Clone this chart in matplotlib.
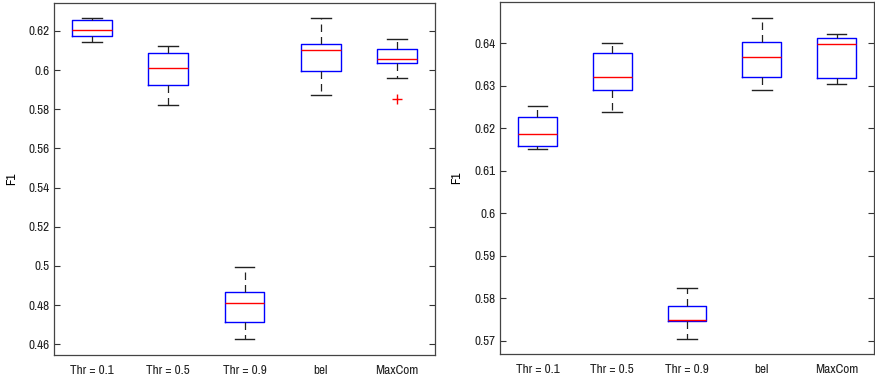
import matplotlib
matplotlib.use("Agg")
import matplotlib.pyplot as plt
from matplotlib import font_manager as fm

# narrow sans face, like the MATLAB screen font in the original
installed = set(f.name for f in fm.fontManager.ttflist)
narrow = [n for n in ["Liberation Sans Narrow", "Arial Narrow", "Archivo Narrow",
                      "PT Sans Narrow", "Roboto Condensed", "Pragati Narrow"] if n in installed]
plt.rcParams['font.family'] = narrow[:1] + ['Liberation Sans', 'DejaVu Sans']
fsize = 9.5 if narrow else 8

labels = ["Thr = 0.1", "Thr = 0.5", "Thr = 0.9", "bel", "MaxCom"]

# left panel: lower whisker, Q1, median, Q3, upper whisker
left_lo = [0.6144, 0.5824, 0.4629, 0.5873, 0.5961]
left_q1 = [0.6173, 0.5923, 0.4715, 0.5996, 0.6035]
left_med = [0.6205, 0.6011, 0.4809, 0.6101, 0.6055]
left_q3 = [0.6255, 0.6089, 0.4866, 0.6135, 0.6110]
left_hi = [0.6268, 0.6122, 0.4993, 0.6268, 0.6161]
left_out = [[], [], [], [], [0.5855]]

# right panel
right_lo = [0.6151, 0.6238, 0.5705, 0.6291, 0.6304]
right_q1 = [0.6159, 0.6289, 0.5746, 0.6321, 0.6319]
right_med = [0.6187, 0.6320, 0.5748, 0.6367, 0.6398]
right_q3 = [0.6227, 0.6378, 0.5783, 0.6403, 0.6413]
right_hi = [0.6252, 0.6401, 0.5824, 0.6459, 0.6421]
right_out = [[], [], [], [], []]


def make_stats(lo, q1, med, q3, hi, out):
    stats = []
    for i in range(len(labels)):
        stats.append({"whislo": lo[i], "q1": q1[i], "med": med[i], "q3": q3[i],
                      "whishi": hi[i], "fliers": out[i], "label": labels[i]})
    return stats


def draw(ax, stats, ylim, yticks, yticklabels):
    ax.bxp(stats, widths=0.52, capwidths=0.26, showfliers=True,
           boxprops=dict(color="#0000ff", linewidth=1.0),
           medianprops=dict(color="#ff0000", linewidth=1.0),
           whiskerprops=dict(color="#222222", linewidth=0.9, linestyle=(0, (6, 4))),
           capprops=dict(color="#222222", linewidth=1.0),
           flierprops=dict(marker="+", markeredgecolor="#ff0000", markersize=7,
                           markeredgewidth=1.0, linestyle="none"))
    ax.set_xlim(0.5, 5.5)
    ax.set_ylim(*ylim)
    ax.set_yticks(yticks)
    ax.set_yticklabels(yticklabels)
    ax.set_ylabel("F1", fontsize=fsize)
    ax.tick_params(axis="y", direction="in", right=True, length=4, labelsize=fsize,
                   color="#333333", labelcolor="#222222")
    ax.tick_params(axis="x", length=0, labelsize=fsize, pad=7, labelcolor="#222222")
    for s in ax.spines.values():
        s.set_color("#444444")
        s.set_linewidth(0.9)


fig = plt.figure(figsize=(8.75, 3.79), dpi=100)
ax1 = fig.add_axes([54 / 875, 24 / 379, 381 / 875, 352 / 379])
ax2 = fig.add_axes([500 / 875, 25 / 379, 374 / 875, 352 / 379])

draw(ax1, make_stats(left_lo, left_q1, left_med, left_q3, left_hi, left_out),
     (0.4545, 0.6343),
     [0.46, 0.48, 0.5, 0.52, 0.54, 0.56, 0.58, 0.6, 0.62],
     ["0.46", "0.48", "0.5", "0.52", "0.54", "0.56", "0.58", "0.6", "0.62"])
draw(ax2, make_stats(right_lo, right_q1, right_med, right_q3, right_hi, right_out),
     (0.5669, 0.6497),
     [0.57, 0.58, 0.59, 0.6, 0.61, 0.62, 0.63, 0.64],
     ["0.57", "0.58", "0.59", "0.6", "0.61", "0.62", "0.63", "0.64"])

# F1 label sits at about x = 17 px (left) and x = 462 px (right)
ax1.yaxis.set_label_coords(-37 / 381, 0.5)
ax2.yaxis.set_label_coords(-38 / 374, 0.5)

fig.savefig("out.png", dpi=100)
